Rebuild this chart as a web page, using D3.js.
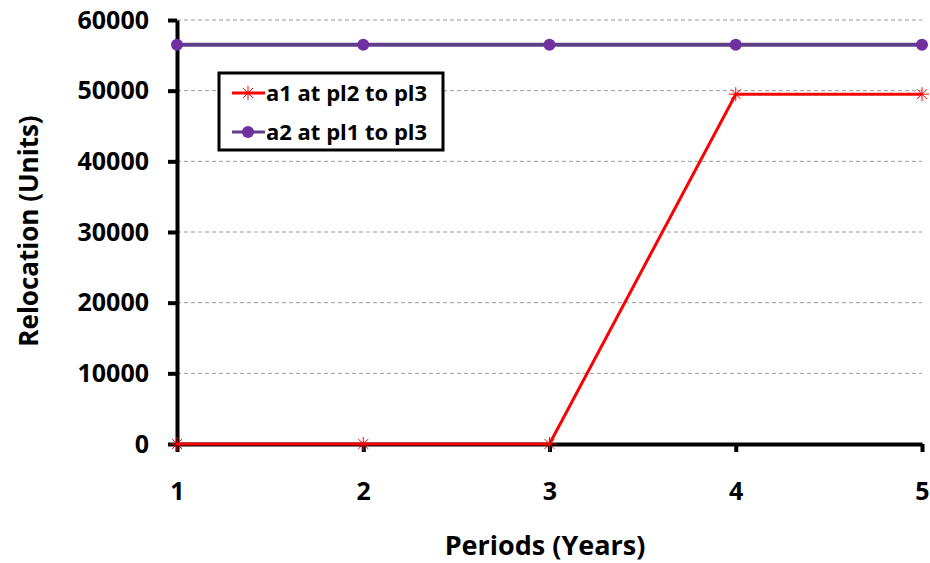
<!DOCTYPE html>
<html><head><meta charset="utf-8">
<script src="https://cdn.jsdelivr.net/npm/d3@7"></script>
<style>body{margin:0;background:#fff}</style>
</head><body>
<svg id="c" width="930" height="563"></svg>
<script>
const periods = [1, 2, 3, 4, 5];
const a1 = [0, 0, 0, 49500, 49500];
const a2 = [56500, 56500, 56500, 56500, 56500];
const yTicks = [0, 10000, 20000, 30000, 40000, 50000, 60000];
const seriesNames = ["a1 at pl2 to pl3", "a2 at pl1 to pl3"];

const svg = d3.select("#c");
const font = "'Open Sans', sans-serif";
const x = d3.scaleLinear().domain([1, 5]).range([177, 922]);
const y = d3.scaleLinear().domain([0, 60000]).range([444, 20]);

// grid
svg.append("g").selectAll("line").data(yTicks.filter(d => d > 0)).join("line")
  .attr("x1", 177).attr("x2", 922).attr("y1", d => y(d)).attr("y2", d => y(d))
  .attr("stroke", "#999").attr("stroke-width", 1).attr("stroke-dasharray", "4,3");

// y axis
const ya = svg.append("g").attr("transform", "translate(177,0)")
  .call(d3.axisLeft(y).tickValues(yTicks).tickSize(9).tickSizeOuter(0).tickPadding(19).tickFormat(d3.format("d")));
ya.select(".domain").attr("stroke", "#000").attr("stroke-width", 4);
ya.selectAll(".tick line").attr("stroke", "#000").attr("stroke-width", 4);
ya.selectAll("text").attr("font-family", font).attr("font-weight", "bold").attr("font-size", 25).attr("fill", "#000");

// x axis
const xa = svg.append("g").attr("transform", "translate(0,444)")
  .call(d3.axisBottom(x).tickValues(periods).tickSize(8).tickSizeOuter(0).tickPadding(30).tickFormat(d3.format("d")));
xa.select(".domain").attr("stroke", "#000").attr("stroke-width", 4);
xa.selectAll(".tick line").attr("stroke", "#000").attr("stroke-width", 4);
xa.selectAll("text").attr("font-family", font).attr("font-weight", "bold").attr("font-size", 25).attr("fill", "#000");

// axis titles
svg.append("text").attr("x", 545).attr("y", 555).attr("text-anchor", "middle")
  .attr("font-family", font).attr("font-weight", "bold").attr("font-size", 27).text("Periods (Years)");
svg.append("text").attr("transform", "translate(38,231) rotate(-90)").attr("text-anchor", "middle")
  .attr("font-family", font).attr("font-weight", "bold").attr("font-size", 26).text("Relocation (Units)");

const line = d3.line().x((d, i) => x(periods[i])).y(d => y(d));
const purple = "#7030a0";

// a2 line
svg.append("path").datum(a2).attr("d", line).attr("fill", "none").attr("stroke", "#5f3f8a").attr("stroke-width", 4);
svg.append("g").selectAll("circle").data(a2).join("circle")
  .attr("cx", (d, i) => x(periods[i])).attr("cy", d => y(d)).attr("r", 6).attr("fill", purple);

// a1 line
svg.append("path").datum(a1).attr("d", line).attr("fill", "none").attr("stroke", "#ff0000").attr("stroke-width", 3);
function star(g, cx, cy, s) {
  const pts = [[-s, 0, s, 0], [0, -s, 0, s], [-s*0.7, -s*0.7, s*0.7, s*0.7], [-s*0.7, s*0.7, s*0.7, -s*0.7]];
  pts.forEach(p => g.append("line").attr("x1", cx + p[0]).attr("y1", cy + p[1]).attr("x2", cx + p[2]).attr("y2", cy + p[3])
    .attr("stroke", "#ff0000").attr("stroke-width", 1));
}
const sg = svg.append("g");
a1.forEach((d, i) => star(sg, x(periods[i]), y(d), 7));

// legend
const lg = svg.append("g");
lg.append("rect").attr("x", 219).attr("y", 73).attr("width", 224).attr("height", 77)
  .attr("fill", "#fff").attr("stroke", "#000").attr("stroke-width", 3);
lg.append("line").attr("x1", 232).attr("x2", 265).attr("y1", 93).attr("y2", 93).attr("stroke", "#ff0000").attr("stroke-width", 3);
star(lg, 248, 93, 7);
lg.append("line").attr("x1", 232).attr("x2", 265).attr("y1", 132).attr("y2", 132).attr("stroke", "#5f3f8a").attr("stroke-width", 3);
lg.append("circle").attr("cx", 248).attr("cy", 132).attr("r", 6).attr("fill", purple);
lg.selectAll("text").data(seriesNames).join("text")
  .attr("x", 266).attr("y", (d, i) => 101 + i * 39)
  .attr("font-family", font).attr("font-weight", "bold").attr("font-size", 22).text(d => d);
</script>
</body></html>
